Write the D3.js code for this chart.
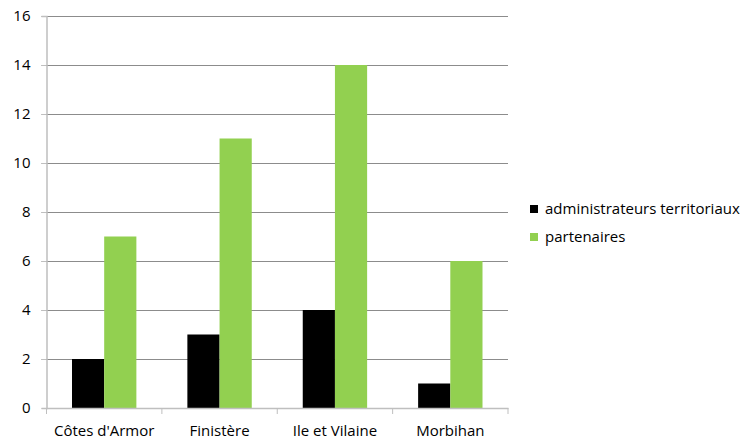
<!DOCTYPE html>
<html>
<head>
<meta charset="utf-8">
<script src="https://cdn.jsdelivr.net/npm/d3@7"></script>
<style>
  body { margin: 0; background: #fff; }
  text { font-family: "Open Sans", "Noto Sans", sans-serif; }
</style>
</head>
<body>
<svg id="chart" width="745" height="441"></svg>
<script>
const categories = ["Côtes d'Armor", "Finistère", "Ile et Vilaine", "Morbihan"];
const seriesNames = ["administrateurs territoriaux", "partenaires"];
const admins = [2, 3, 4, 1];
const partenaires = [7, 11, 14, 6];
const yTicks = [0, 2, 4, 6, 8, 10, 12, 14, 16];
const colors = ["#000000", "#92d050"];

const svg = d3.select("#chart");
const margin = { top: 16, right: 237, bottom: 33, left: 46.5 };
const width = 745, height = 441;
const fontSize = 15;

const x = d3.scaleBand()
  .domain(categories)
  .range([margin.left, width - margin.right])
  .paddingInner(0)
  .paddingOuter(0);

const x1 = d3.scaleBand()
  .domain(seriesNames)
  .range([25.5, x.bandwidth() - 25.5]);

const y = d3.scaleLinear()
  .domain([0, 16])
  .range([height - margin.bottom, margin.top]);

// gridlines
svg.append("g")
  .selectAll("line")
  .data(yTicks.filter(d => d > 0))
  .enter()
  .append("line")
  .attr("x1", margin.left - 5)
  .attr("x2", width - margin.right)
  .attr("y1", d => Math.round(y(d)) + 0.5)
  .attr("y2", d => Math.round(y(d)) + 0.5)
  .attr("stroke", "#8c8c8c")
  .attr("stroke-width", 1);

// bars
const data = categories.map((c, i) => ({ cat: c, values: [admins[i], partenaires[i]] }));
const groups = svg.append("g")
  .selectAll("g")
  .data(data)
  .enter()
  .append("g")
  .attr("transform", d => `translate(${x(d.cat)},0)`);

groups.selectAll("rect")
  .data(d => d.values.map((v, j) => ({ name: seriesNames[j], v: v, j: j })))
  .enter()
  .append("rect")
  .attr("x", d => x1(d.name))
  .attr("y", d => y(d.v))
  .attr("width", x1.bandwidth())
  .attr("height", d => y(0) - y(d.v))
  .attr("fill", d => colors[d.j]);

// y axis
const yAxis = svg.append("g")
  .attr("transform", `translate(${margin.left},0)`)
  .call(d3.axisLeft(y).tickValues(yTicks).tickSize(5).tickPadding(11).tickFormat(d3.format("d")));
yAxis.select(".domain").attr("stroke", "#bfbfbf").attr("stroke-width", 1.5);
yAxis.selectAll(".tick line").attr("stroke", "#bfbfbf");
yAxis.selectAll(".tick text").attr("font-size", fontSize).attr("fill", "#000");

// x axis
const xAxis = svg.append("g")
  .attr("transform", `translate(0,${y(0)})`)
  .call(d3.axisBottom(x).tickSize(0).tickPadding(17));
xAxis.select(".domain").attr("stroke", "#bfbfbf").attr("stroke-width", 1.5);
xAxis.selectAll(".tick text").attr("font-size", fontSize).attr("fill", "#000");
xAxis.selectAll(".sep")
  .data(categories.concat(["end"]))
  .enter()
  .append("line")
  .attr("class", "sep")
  .attr("x1", (d, i) => margin.left + i * x.bandwidth())
  .attr("x2", (d, i) => margin.left + i * x.bandwidth())
  .attr("y1", 0)
  .attr("y2", 6)
  .attr("stroke", "#bfbfbf");

// legend
const legend = svg.append("g")
  .attr("transform", "translate(530,205)");
const items = legend.selectAll("g")
  .data(seriesNames)
  .enter()
  .append("g")
  .attr("transform", (d, i) => `translate(0,${i * 28})`);
items.append("rect")
  .attr("width", 8)
  .attr("height", 8)
  .attr("fill", (d, i) => colors[i]);
items.append("text")
  .attr("x", 15)
  .attr("y", 9)
  .attr("font-size", fontSize)
  .attr("fill", "#000")
  .text(d => d);
</script>
</body>
</html>
